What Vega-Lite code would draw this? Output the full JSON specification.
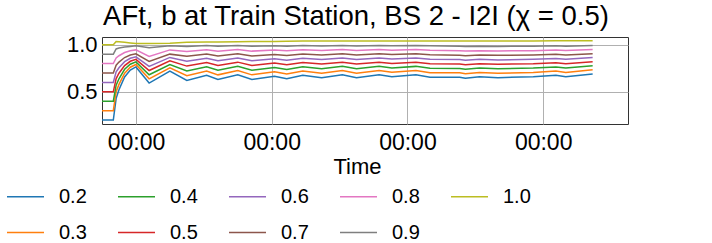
{
 "$schema": "https://vega.github.io/schema/vega-lite/v6.json",
 "autosize": {"type": "none"},
 "padding": {"left": 102, "top": 37, "right": 84, "bottom": 119},
 "width": 526,
 "height": 87,
 "title": {"text": "AFt, b at Train Station, BS 2 - I2I (χ = 0.5)", "fontSize": 27.5, "font": "Liberation Sans", "fontWeight": "normal", "color": "black", "anchor": "middle", "frame": "group", "baseline": "bottom", "offset": 6, "dx": -9, "dy": 31},
 "data": {"values": [
  {"t": "2020-01-01T18:00", "0.2": 0.2, "0.3": 0.3, "0.4": 0.4, "0.5": 0.5, "0.6": 0.6, "0.7": 0.7, "0.8": 0.8, "0.9": 0.9, "1.0": 1.0},
  {"t": "2020-01-01T20:00", "0.2": 0.2, "0.3": 0.3, "0.4": 0.4, "0.5": 0.5, "0.6": 0.6, "0.7": 0.7, "0.8": 0.8, "0.9": 0.9, "1.0": 1.0},
  {"t": "2020-01-01T20:30", "0.2": 0.431, "0.3": 0.501, "0.4": 0.571, "0.5": 0.641, "0.6": 0.712, "0.7": 0.783, "0.8": 0.859, "0.9": 0.955, "1.0": 1.035},
  {"t": "2020-01-01T21:00", "0.2": 0.521, "0.3": 0.579, "0.4": 0.638, "0.5": 0.697, "0.6": 0.755, "0.7": 0.816, "0.8": 0.883, "0.9": 0.965, "1.0": 1.032},
  {"t": "2020-01-01T22:00", "0.2": 0.657, "0.3": 0.697, "0.4": 0.739, "0.5": 0.779, "0.6": 0.820, "0.7": 0.864, "0.8": 0.917, "0.9": 0.975, "1.0": 1.025},
  {"t": "2020-01-01T23:00", "0.2": 0.730, "0.3": 0.761, "0.4": 0.793, "0.5": 0.824, "0.6": 0.856, "0.7": 0.891, "0.8": 0.936, "0.9": 0.982, "1.0": 1.018},
  {"t": "2020-01-02T00:00", "0.2": 0.764, "0.3": 0.790, "0.4": 0.818, "0.5": 0.845, "0.6": 0.872, "0.7": 0.903, "0.8": 0.945, "0.9": 0.988, "1.0": 1.012},
  {"t": "2020-01-02T02:20", "0.2": 0.593, "0.3": 0.638, "0.4": 0.681, "0.5": 0.726, "0.6": 0.769, "0.7": 0.822, "0.8": 0.875, "0.9": 0.968, "1.0": 1.012},
  {"t": "2020-01-02T06:00", "0.2": 0.720, "0.3": 0.755, "0.4": 0.790, "0.5": 0.830, "0.6": 0.865, "0.7": 0.900, "0.8": 0.945, "0.9": 0.988, "1.0": 1.015},
  {"t": "2020-01-02T09:00", "0.2": 0.620, "0.3": 0.671, "0.4": 0.722, "0.5": 0.773, "0.6": 0.824, "0.7": 0.877, "0.8": 0.929, "0.9": 0.981, "1.0": 1.025},
  {"t": "2020-01-02T12:30", "0.2": 0.675, "0.3": 0.720, "0.4": 0.766, "0.5": 0.811, "0.6": 0.857, "0.7": 0.902, "0.8": 0.947, "0.9": 0.992, "1.0": 1.028},
  {"t": "2020-01-02T14:30", "0.2": 0.630, "0.3": 0.680, "0.4": 0.730, "0.5": 0.780, "0.6": 0.830, "0.7": 0.881, "0.8": 0.932, "0.9": 0.983, "1.0": 1.030},
  {"t": "2020-01-02T18:00", "0.2": 0.680, "0.3": 0.725, "0.4": 0.770, "0.5": 0.815, "0.6": 0.860, "0.7": 0.904, "0.8": 0.949, "0.9": 0.993, "1.0": 1.032},
  {"t": "2020-01-02T20:30", "0.2": 0.630, "0.3": 0.680, "0.4": 0.730, "0.5": 0.780, "0.6": 0.830, "0.7": 0.881, "0.8": 0.932, "0.9": 0.983, "1.0": 1.033},
  {"t": "2020-01-03T00:30", "0.2": 0.665, "0.3": 0.712, "0.4": 0.758, "0.5": 0.805, "0.6": 0.851, "0.7": 0.897, "0.8": 0.944, "0.9": 0.990, "1.0": 1.035},
  {"t": "2020-01-03T02:40", "0.2": 0.640, "0.3": 0.689, "0.4": 0.738, "0.5": 0.787, "0.6": 0.836, "0.7": 0.886, "0.8": 0.935, "0.9": 0.985, "1.0": 1.037},
  {"t": "2020-01-03T05:30", "0.2": 0.675, "0.3": 0.720, "0.4": 0.766, "0.5": 0.811, "0.6": 0.857, "0.7": 0.902, "0.8": 0.947, "0.9": 0.992, "1.0": 1.040},
  {"t": "2020-01-03T08:50", "0.2": 0.650, "0.3": 0.698, "0.4": 0.746, "0.5": 0.794, "0.6": 0.842, "0.7": 0.891, "0.8": 0.939, "0.9": 0.987, "1.0": 1.040},
  {"t": "2020-01-03T12:30", "0.2": 0.680, "0.3": 0.725, "0.4": 0.770, "0.5": 0.815, "0.6": 0.860, "0.7": 0.904, "0.8": 0.949, "0.9": 0.993, "1.0": 1.040},
  {"t": "2020-01-03T15:00", "0.2": 0.650, "0.3": 0.698, "0.4": 0.746, "0.5": 0.794, "0.6": 0.842, "0.7": 0.891, "0.8": 0.939, "0.9": 0.987, "1.0": 1.040},
  {"t": "2020-01-03T19:00", "0.2": 0.680, "0.3": 0.725, "0.4": 0.770, "0.5": 0.815, "0.6": 0.860, "0.7": 0.904, "0.8": 0.949, "0.9": 0.993, "1.0": 1.040},
  {"t": "2020-01-03T21:15", "0.2": 0.660, "0.3": 0.707, "0.4": 0.754, "0.5": 0.801, "0.6": 0.848, "0.7": 0.895, "0.8": 0.942, "0.9": 0.989, "1.0": 1.040},
  {"t": "2020-01-04T01:30", "0.2": 0.680, "0.3": 0.725, "0.4": 0.770, "0.5": 0.815, "0.6": 0.860, "0.7": 0.904, "0.8": 0.949, "0.9": 0.993, "1.0": 1.040},
  {"t": "2020-01-04T04:00", "0.2": 0.655, "0.3": 0.703, "0.4": 0.750, "0.5": 0.798, "0.6": 0.845, "0.7": 0.893, "0.8": 0.940, "0.9": 0.988, "1.0": 1.040},
  {"t": "2020-01-04T09:15", "0.2": 0.655, "0.3": 0.702, "0.4": 0.748, "0.5": 0.795, "0.6": 0.842, "0.7": 0.889, "0.8": 0.936, "0.9": 0.983, "1.0": 1.040},
  {"t": "2020-01-04T10:15", "0.2": 0.645, "0.3": 0.693, "0.4": 0.740, "0.5": 0.788, "0.6": 0.836, "0.7": 0.884, "0.8": 0.932, "0.9": 0.981, "1.0": 1.040},
  {"t": "2020-01-04T12:45", "0.2": 0.660, "0.3": 0.706, "0.4": 0.752, "0.5": 0.799, "0.6": 0.845, "0.7": 0.891, "0.8": 0.937, "0.9": 0.984, "1.0": 1.040},
  {"t": "2020-01-04T16:00", "0.2": 0.650, "0.3": 0.697, "0.4": 0.744, "0.5": 0.792, "0.6": 0.839, "0.7": 0.887, "0.8": 0.934, "0.9": 0.982, "1.0": 1.040},
  {"t": "2020-01-04T22:15", "0.2": 0.660, "0.3": 0.706, "0.4": 0.752, "0.5": 0.799, "0.6": 0.845, "0.7": 0.891, "0.8": 0.937, "0.9": 0.984, "1.0": 1.040},
  {"t": "2020-01-05T02:15", "0.2": 0.675, "0.3": 0.720, "0.4": 0.764, "0.5": 0.809, "0.6": 0.854, "0.7": 0.898, "0.8": 0.943, "0.9": 0.988, "1.0": 1.042},
  {"t": "2020-01-05T04:00", "0.2": 0.660, "0.3": 0.706, "0.4": 0.752, "0.5": 0.799, "0.6": 0.845, "0.7": 0.892, "0.8": 0.938, "0.9": 0.985, "1.0": 1.042},
  {"t": "2020-01-05T08:45", "0.2": 0.690, "0.3": 0.733, "0.4": 0.776, "0.5": 0.820, "0.6": 0.863, "0.7": 0.905, "0.8": 0.948, "0.9": 0.991, "1.0": 1.042}
 ]},
 "transform": [
  {"fold": ["0\\.2", "0\\.3", "0\\.4", "0\\.5", "0\\.6", "0\\.7", "0\\.8", "0\\.9", "1\\.0"], "as": ["s", "v"]}
 ],
 "mark": {"type": "line", "strokeWidth": 1.5},
 "encoding": {
  "x": {
   "field": "t", "type": "temporal",
   "scale": {"domain": [{"year": 2020, "month": 1, "date": 1, "hours": 18}, {"year": 2020, "month": 1, "date": 5, "hours": 15}]},
   "axis": {"title": "Time", "format": "%H:%M", "tickCount": {"interval": "day", "step": 1}, "labelFontSize": 23, "titleFontSize": 22, "grid": true, "ticks": false, "tickSize": 0, "domain": false, "labelPadding": 25, "labelBaseline": "alphabetic", "titleX": 255, "titleY": 49, "titleBaseline": "alphabetic", "titleAlign": "center", "labelOverlap": false}
  },
  "y": {
   "field": "v", "type": "quantitative",
   "scale": {"domain": [0.158, 1.082], "nice": false, "zero": false},
   "axis": {"title": null, "values": [0.5, 1.0], "format": ".1f", "labelFontSize": 22, "grid": true, "ticks": false, "tickSize": 0, "domain": false, "labelPadding": 5}
  },
  "color": {
   "field": "s", "type": "nominal",
   "scale": {"domain": ["0.2", "0.3", "0.4", "0.5", "0.6", "0.7", "0.8", "0.9", "1.0"], "range": ["#1f77b4", "#ff7f0e", "#2ca02c", "#d62728", "#9467bd", "#8c564b", "#e377c2", "#7f7f7f", "#bcbd22"]},
   "legend": {"title": null, "orient": "none", "direction": "vertical", "legendX": -96, "legendY": 140, "columns": 5, "symbolType": "stroke", "symbolSize": 1369, "symbolStrokeWidth": 1.5, "labelFontSize": 20, "labelOffset": 14, "columnPadding": 28, "rowPadding": 6}
  }
 },
 "config": {
  "font": "Liberation Sans",
  "axis": {"labelColor": "black", "titleColor": "black", "gridColor": "#b0b0b0", "gridWidth": 1, "titleFontWeight": "normal"},
  "legend": {"labelColor": "black"},
  "view": {"stroke": "#333333", "strokeWidth": 1}
 }
}
